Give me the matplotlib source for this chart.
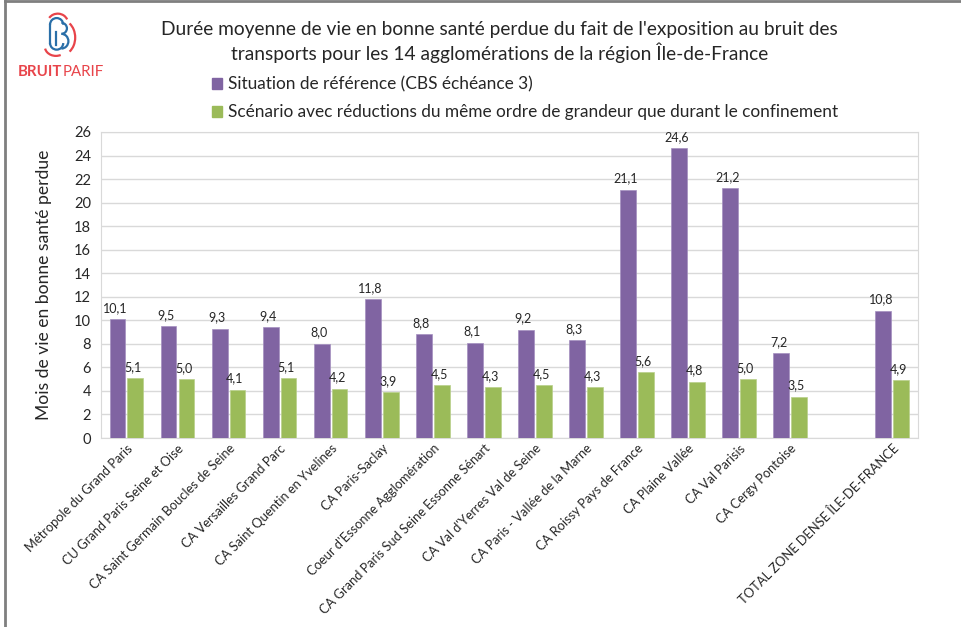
import matplotlib.pyplot as plt
from matplotlib.patches import Arc, Rectangle
from matplotlib.lines import Line2D
import numpy as np

plt.rcParams['font.family'] = ['Lato', 'DejaVu Sans']

categories = ["Métropole du Grand Paris", "CU Grand Paris Seine et Oise",
              "CA Saint Germain Boucles de Seine", "CA Versailles Grand Parc",
              "CA Saint Quentin en Yvelines", "CA Paris-Saclay",
              "Coeur d'Essonne Agglomération",
              "CA Grand Paris Sud Seine Essonne Sénart",
              "CA Val d'Yerres Val de Seine", "CA Paris - Vallée de la Marne",
              "CA Roissy Pays de France", "CA Plaine Vallée", "CA Val Parisis",
              "CA Cergy Pontoise", "TOTAL ZONE DENSE ÎLE-DE-FRANCE"]
reference = [10.1, 9.5, 9.3, 9.4, 8.0, 11.8, 8.8, 8.1, 9.2, 8.3, 21.1, 24.6, 21.2, 7.2, 10.8]
scenario = [5.1, 5.0, 4.1, 5.1, 4.2, 3.9, 4.5, 4.3, 4.5, 4.3, 5.6, 4.8, 5.0, 3.5, 4.9]
series_names = ["Situation de référence (CBS échéance 3)",
                "Scénario avec réductions du même ordre de grandeur que durant le confinement"]

purple = "#8064A2"
green = "#9BBB59"

fig = plt.figure(figsize=(9.61, 6.27), dpi=100)
ax = fig.add_axes([0.105, 0.3014, 0.850, 0.4881])

# one empty slot before the total
x = np.array(list(range(14)) + [15])
w = 0.31
off = 0.175
b1 = ax.bar(x - off, reference, w, color=purple, edgecolor="#a48fc0", linewidth=0.5, zorder=3)
b2 = ax.bar(x + off, scenario, w, color=green, edgecolor="#b8d08a", linewidth=0.5, zorder=3)

fmt = lambda v: f"{v:.1f}".replace(".", ",")
for bars, vals in ((b1, reference), (b2, scenario)):
    for r, v in zip(bars, vals):
        ax.text(r.get_x() + r.get_width() / 2 - 0.05, v + 0.45, fmt(v),
                ha="center", va="bottom", fontsize=9, color="#262626")

ax.set_xlim(-0.5, 15.5)
ax.set_ylim(0, 26)
ax.set_yticks(np.arange(0, 27, 2))
ax.tick_params(axis="y", length=0, labelsize=10.5, colors="#262626", pad=7)
ax.tick_params(axis="x", length=0, pad=3)
ax.set_xticks(x)
ax.set_xticklabels(categories, rotation=45, ha="right", rotation_mode="anchor",
                   fontsize=9.3, color="#262626")
ax.grid(axis="y", color="#d9d9d9", linewidth=1, zorder=0)
for s in ax.spines.values():
    s.set_color("#d9d9d9")
ax.set_ylabel("Mois de vie en bonne santé perdue", fontsize=12.6, color="#262626", labelpad=16)

fig.text(0.52, 0.967, "Durée moyenne de vie en bonne santé perdue du fait de l'exposition au bruit des\n"
         "transports pour les 14 agglomérations de la région Île-de-France",
         ha="center", va="top", fontsize=13.8, color="#262626", linespacing=1.25)

handles = [Rectangle((0, 0), 1, 1, color=purple), Rectangle((0, 0), 1, 1, color=green)]
fig.legend(handles, series_names, loc="upper left", bbox_to_anchor=(0.213, 0.889),
           frameon=False, fontsize=12.4, handlelength=0.6, handleheight=0.6,
           handletextpad=0.35, labelspacing=0.68, borderaxespad=0, labelcolor="#262626")

# figure frame lines (left and top)
fig.add_artist(Line2D([0.005, 0.005], [0, 0.998], color="#7f7f7f", lw=2))
fig.add_artist(Line2D([0.005, 1], [0.998, 0.998], color="#7f7f7f", lw=2))

# logo
lx = fig.add_axes([0.034, 0.905, 0.056, 0.082])
lx.set_xlim(0, 1)
lx.set_ylim(0, 1.4)
lx.set_aspect("equal")
lx.axis("off")
blue = "#2a6fa8"
red = "#e8444a"
lx.add_patch(Arc((0.42, 0.95), 0.36, 0.36, theta1=0, theta2=180, color=blue, lw=1.6))
lx.plot([0.24, 0.24], [0.45, 0.95], color=blue, lw=1.6)
lx.add_patch(Arc((0.42, 0.45), 0.36, 0.36, theta1=180, theta2=360, color=blue, lw=1.6))
lx.add_patch(Arc((0.55, 0.85), 0.3, 0.3, theta1=-90, theta2=90, color=blue, lw=1.6))
lx.add_patch(Arc((0.55, 0.5), 0.38, 0.4, theta1=-90, theta2=90, color=blue, lw=1.6))
lx.plot([0.4, 0.4], [0.4, 0.75], color=blue, lw=1.6)
lx.add_patch(Arc((0.55, 0.6), 0.75, 0.95, theta1=-60, theta2=60, color=red, lw=1.6))
lx.add_patch(Arc((0.45, 1.0), 0.55, 0.5, theta1=20, theta2=150, color=red, lw=1.6))
lx.add_patch(Arc((0.4, 0.35), 0.6, 0.5, theta1=190, theta2=300, color=red, lw=1.6))

t_bruit = fig.text(0.018, 0.885, "BRUIT", fontsize=10.8, fontweight="bold", color=red, va="center")
lx.annotate("PARIF", xy=(1, 0.5), xycoords=t_bruit, xytext=(1, 0), textcoords="offset points",
            fontsize=10.8, color=red, va="center", ha="left", annotation_clip=False)

fig.savefig("out.png", dpi=100)
